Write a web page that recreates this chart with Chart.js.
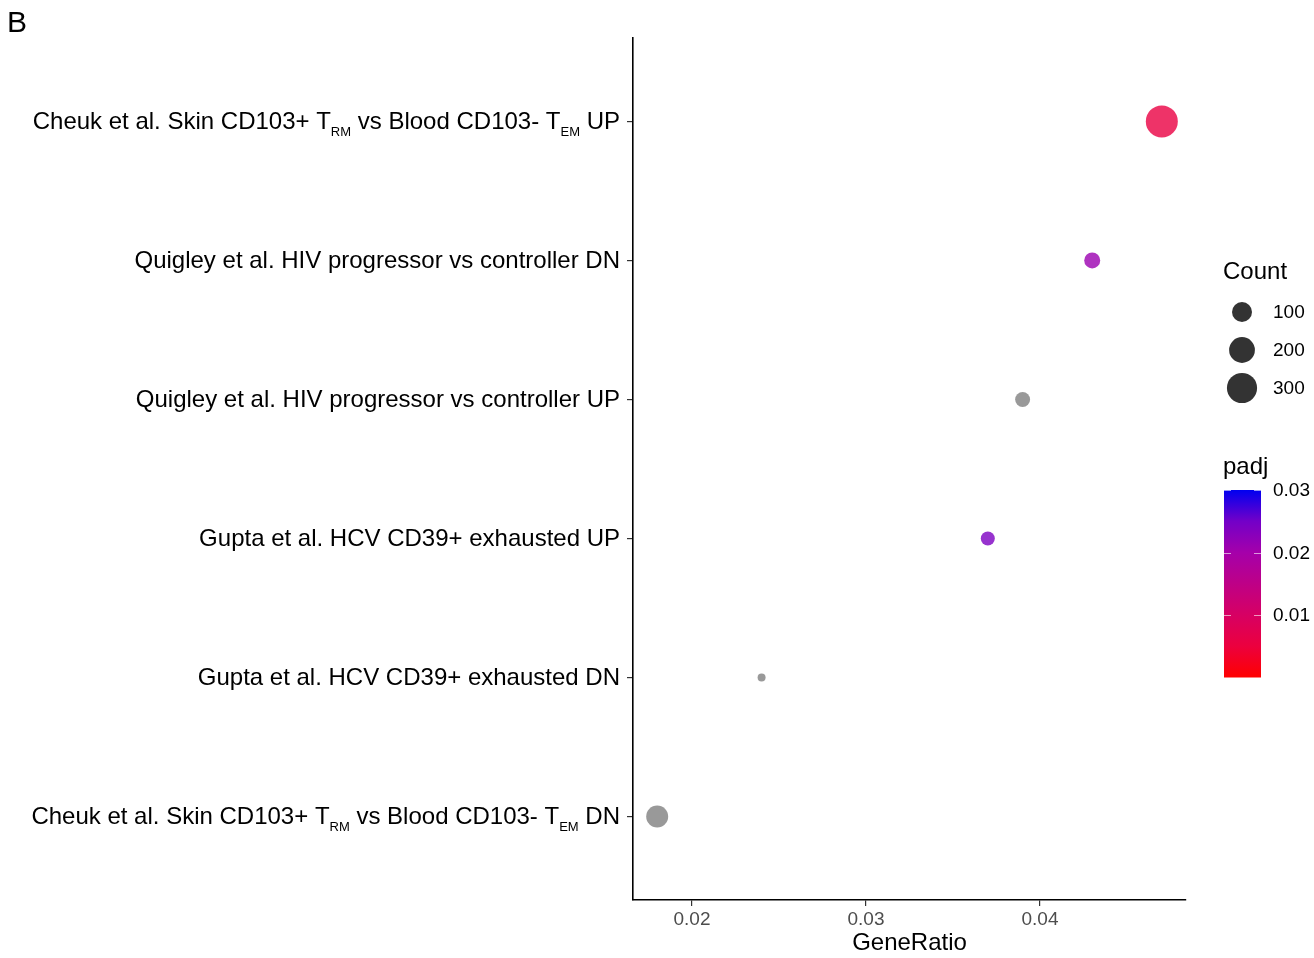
<!DOCTYPE html>
<html>
<head>
<meta charset="utf-8">
<script src="https://cdn.jsdelivr.net/npm/chart.js@4"></script>
<style>
  html, body { margin: 0; padding: 0; background: #fff; }
  #wrap { width: 1314px; height: 958px; position: relative; }
</style>
</head>
<body>
<div id="wrap"><canvas id="dotChart" width="1314" height="958"></canvas></div>
<script>
// categories, bottom to top (ggplot discrete order)
const categories = [
  "Cheuk et al. Skin CD103+ T_{RM} vs Blood CD103- T_{EM} DN",
  "Gupta et al. HCV CD39+ exhausted DN",
  "Gupta et al. HCV CD39+ exhausted UP",
  "Quigley et al. HIV progressor vs controller UP",
  "Quigley et al. HIV progressor vs controller DN",
  "Cheuk et al. Skin CD103+ T_{RM} vs Blood CD103- T_{EM} UP",
];
const geneRatio = [0.0180, 0.0240, 0.0370, 0.0390, 0.0430, 0.0470];
const counts = [130, 17, 38, 45, 54, 350];
const padj = [null, null, 0.024, null, 0.021, 0.0055];

const xTicks = [0.02, 0.03, 0.04];
const countBreaks = [100, 200, 300];
const padjBreaks = [0.01, 0.02, 0.03];
const padjLimits = [0, 0.03];

const FONT = "'Liberation Sans', Arial, Helvetica, sans-serif";

// size scale: area-ish like ggplot scale_size (diameter in px)
const countLo = Math.min(...counts), countHi = Math.max(...counts);
function radiusFor(c) {
  const t = Math.max(0, (c - countLo) / (countHi - countLo));
  return (8 + 24 * Math.sqrt(t)) / 2;
}

// red -> blue gradient (roughly Lab interpolated)
const gradStops = [
  [0, [255, 0, 0]], [1 / 6, [236, 0, 62]], [1 / 3, [215, 0, 99]],
  [2 / 3, [165, 0, 170]], [5 / 6, [115, 0, 200]], [1, [0, 0, 240]],
];
function rgbAt(t) {
  t = Math.min(1, Math.max(0, t));
  for (let i = 1; i < gradStops.length; i++) {
    const [t1, c1] = gradStops[i];
    const [t0, c0] = gradStops[i - 1];
    if (t <= t1) {
      const f = (t - t0) / (t1 - t0);
      return c0.map((v, k) => Math.round(v + (c1[k] - v) * f));
    }
  }
  return gradStops[gradStops.length - 1][1];
}
function colorFor(p, alpha) {
  if (p === null) return `rgba(127,127,127,${alpha})`;
  const c = rgbAt((p - padjLimits[0]) / (padjLimits[1] - padjLimits[0]));
  return `rgba(${c[0]},${c[1]},${c[2]},${alpha})`;
}

const points = geneRatio.map((g, i) => ({ x: g, y: i + 1 }));

// draws label with _{sub} parts, right aligned at x
function drawRich(ctx, text, xRight, yMid) {
  const parts = [];
  const re = /_\{([^}]*)\}/g;
  let last = 0, m;
  while ((m = re.exec(text)) !== null) {
    if (m.index > last) parts.push({ t: text.slice(last, m.index), sub: false });
    parts.push({ t: m[1], sub: true });
    last = re.lastIndex;
  }
  if (last < text.length) parts.push({ t: text.slice(last), sub: false });
  const mainFont = `24px ${FONT}`, subFont = `13px ${FONT}`;
  let total = 0;
  parts.forEach((p) => {
    ctx.font = p.sub ? subFont : mainFont;
    p.w = ctx.measureText(p.t).width;
    total += p.w;
  });
  let x = xRight - total;
  const base = yMid + 7.5;
  ctx.textAlign = "left";
  ctx.textBaseline = "alphabetic";
  parts.forEach((p) => {
    ctx.font = p.sub ? subFont : mainFont;
    ctx.fillText(p.t, x, p.sub ? base + 7 : base);
    x += p.w;
  });
}

const extras = {
  id: "extras",
  afterDraw(chart) {
    const ctx = chart.ctx;
    const ys = chart.scales.y;
    const area = chart.chartArea;
    ctx.save();
    ctx.fillStyle = "#000";

    // panel letter
    ctx.font = `30px ${FONT}`;
    ctx.textAlign = "left";
    ctx.textBaseline = "alphabetic";
    ctx.fillText("B", 7, 32);

    // y labels
    categories.forEach((c, i) => {
      drawRich(ctx, c, area.left - 13, ys.getPixelForValue(i + 1));
    });

    // size legend
    ctx.font = `24px ${FONT}`;
    ctx.textBaseline = "middle";
    ctx.fillText("Count", 1223, 272);
    countBreaks.forEach((c, i) => {
      const cy = 312 + i * 38;
      ctx.beginPath();
      ctx.arc(1242, cy, radiusFor(c), 0, Math.PI * 2);
      ctx.fillStyle = "rgba(0,0,0,0.8)";
      ctx.fill();
      ctx.fillStyle = "#000";
      ctx.font = `19px ${FONT}`;
      ctx.fillText(String(c), 1273, cy + 1);
    });

    // colorbar
    ctx.font = `24px ${FONT}`;
    ctx.fillText("padj", 1223, 467);
    const barX = 1224, barW = 37, barTop = 490, barBot = 677.5;
    const vToY = (v) => barBot - (v - padjLimits[0]) / (padjLimits[1] - padjLimits[0]) * (barBot - barTop);
    const grad = ctx.createLinearGradient(0, barBot, 0, barTop);
    gradStops.forEach(([t, c]) => grad.addColorStop(t, `rgb(${c[0]},${c[1]},${c[2]})`));
    ctx.fillStyle = grad;
    ctx.fillRect(barX, barTop, barW, barBot - barTop);
    ctx.strokeStyle = "rgba(255,255,255,0.6)";
    ctx.lineWidth = 1;
    padjBreaks.forEach((b) => {
      const y = Math.round(vToY(b)) + 0.5;
      ctx.beginPath();
      ctx.moveTo(barX, y); ctx.lineTo(barX + 7, y);
      ctx.moveTo(barX + barW - 7, y); ctx.lineTo(barX + barW, y);
      ctx.stroke();
      ctx.fillStyle = "#000";
      ctx.font = `19px ${FONT}`;
      ctx.fillText(b.toFixed(2), 1273, vToY(b) + 1);
    });
    ctx.restore();
  },
};

const ctx = document.getElementById("dotChart").getContext("2d");
const dotChart = new Chart(ctx, {
  type: "scatter",
  data: {
    datasets: [
      {
        data: points,
        pointRadius: counts.map(radiusFor),
        pointHoverRadius: counts.map(radiusFor),
        pointBackgroundColor: padj.map((p) => colorFor(p, 0.8)),
        pointBorderWidth: 0,
        pointBorderColor: "rgba(0,0,0,0)",
      },
    ],
  },
  options: {
    responsive: false,
    animation: false,
    layout: { padding: { top: 38, right: 128, left: 0, bottom: 0 } },
    plugins: {
      legend: { display: false },
      tooltip: { enabled: false },
    },
    scales: {
      x: {
        type: "linear",
        min: 0.01661,
        max: 0.04839,
        afterBuildTicks: (s) => { s.ticks = xTicks.map((v) => ({ value: v })); },
        afterFit: (s) => { s.height = 58; },
        ticks: {
          color: "#4d4d4d",
          font: { family: FONT, size: 19 },
          padding: 2,
          callback: (v) => v.toFixed(2),
        },
        grid: { drawOnChartArea: false, drawTicks: true, tickLength: 6, color: "#333", lineWidth: 1.2 },
        border: { display: true, color: "#000", width: 1.6 },
        title: {
          display: true,
          text: "GeneRatio",
          color: "#000",
          font: { family: FONT, size: 24 },
          padding: { top: 0, bottom: 0 },
        },
      },
      y: {
        type: "linear",
        min: 0.4,
        max: 6.6,
        afterBuildTicks: (s) => { s.ticks = categories.map((c, i) => ({ value: i + 1 })); },
        afterFit: (s) => { s.width = 633; },
        ticks: { callback: () => "", padding: 0 },
        grid: { drawOnChartArea: false, drawTicks: true, tickLength: 6, color: "#333", lineWidth: 1.2 },
        border: { display: true, color: "#000", width: 1.6 },
      },
    },
  },
  plugins: [extras],
});
</script>
</body>
</html>
